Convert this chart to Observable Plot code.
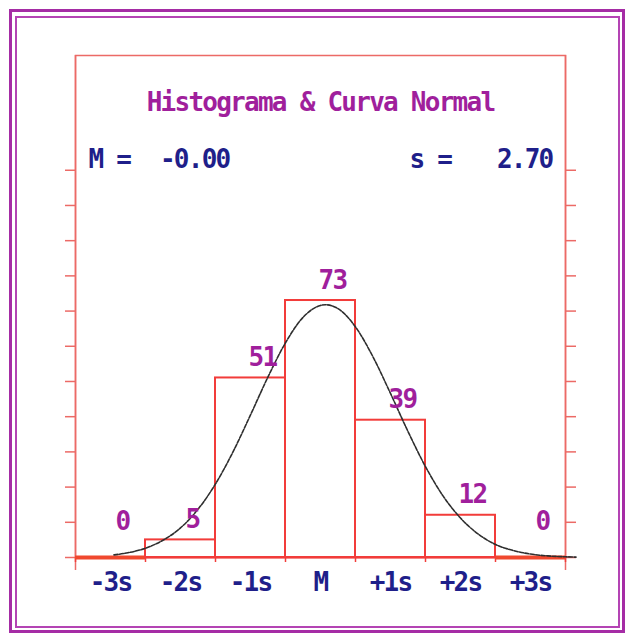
<!DOCTYPE html>
<html>
<head>
<meta charset="utf-8">
<script src="https://cdn.jsdelivr.net/npm/d3@7"></script>
<script src="https://cdn.jsdelivr.net/npm/@observablehq/plot@0.6"></script>
<style>
html, body { margin: 0; padding: 0; background: #fff; width: 626px; height: 636px; overflow: hidden; }
#wrap { position: relative; width: 626px; height: 636px; }
#outer { position: absolute; left: 9px; top: 9px; width: 616px; height: 624px; box-sizing: border-box; border: 3px solid #a52ca5; }
#inner { position: absolute; left: 15px; top: 16px; width: 605px; height: 612px; box-sizing: border-box; border: 2.5px solid #b444b4; }
#chart { position: absolute; left: 0; top: 0; }
#chart svg text { letter-spacing: -1.75px; }
</style>
</head>
<body>
<div id="wrap">
  <div id="outer"></div>
  <div id="inner"></div>
  <div id="chart"></div>
</div>
<script>
// ---- data ----
const binLabels  = ["-3s", "-2s", "-1s", "M", "+1s", "+2s", "+3s"];
const binCenters = [-3, -2, -1, 0, 1, 2, 3];
const counts     = [0, 5, 51, 73, 39, 12, 0];
const yTicks     = [0, 10, 20, 30, 40, 50, 60, 70, 80, 90, 100, 110];

// normal curve as drawn (x in s units, y in counts)
const curveX = [-2.95, -2.75, -2.5, -2.25, -2.0, -1.75, -1.5, -1.25, -1.0, -0.75, -0.5, -0.25, 0, 0.07, 0.25, 0.5, 0.75, 1.0, 1.25, 1.5, 1.75, 2.0, 2.25, 2.5, 2.75, 3.0, 3.25, 3.5, 3.65];
const curveY = [0.74, 1.35, 2.64, 4.9, 8.4, 13.7, 20.9, 30.0, 40.5, 51.3, 61.0, 68.2, 71.6, 71.8, 70.7, 65.5, 57.0, 46.6, 35.8, 25.8, 17.5, 11.2, 6.7, 3.7, 2.0, 0.98, 0.45, 0.2, 0.1];

const titleText = "Histograma & Curva Normal";
const meanLabel = "M =";
const meanValue = "-0.00";
const sdLabel   = "s =";
const sdValue   = "2.70";

// ---- derived tables ----
const bins = binCenters.map((c, i) => ({center: c, x1: c - 0.5, x2: c + 0.5, count: counts[i], label: binLabels[i]}));
const edges = binCenters.map(c => c - 0.5).concat([binCenters[binCenters.length - 1] + 0.5]);
const curve = curveX.map((x, i) => ({x, y: curveY[i]}));

const frameColor = "#ec6a66";
const barColor   = "#f23c3a";
const zeroColor  = "#f0482e";
const magenta    = "#a01f9c";
const navy       = "#1f1f8a";
const font       = "DejaVu Sans Mono";
const fs         = 26;

const chart = Plot.plot({
  width: 626,
  height: 636,
  marginLeft: 75,
  marginRight: 61,
  marginTop: 55,
  marginBottom: 79,
  x: {domain: [edges[0], edges[edges.length - 1]], axis: null},
  y: {domain: [0, 142.6], axis: null},
  style: {background: "transparent", fontFamily: font, overflow: "visible"},
  marks: [
    Plot.frame({stroke: frameColor, strokeWidth: 1.5}),
    Plot.ruleX([edges[0], edges[edges.length - 1]], {stroke: frameColor, strokeWidth: 1.5, insetBottom: -13}),
    Plot.axisY({ticks: yTicks, anchor: "left", tickSize: 10, tickFormat: () => "", stroke: frameColor, strokeWidth: 1.5, label: null}),
    Plot.axisY({ticks: yTicks, anchor: "right", tickSize: 10, tickFormat: () => "", stroke: frameColor, strokeWidth: 1.5, label: null}),
    Plot.axisX({ticks: edges, anchor: "bottom", tickSize: 5, tickFormat: () => "", stroke: barColor, strokeWidth: 1.5, label: null}),
    Plot.ruleY([0], {stroke: barColor, strokeWidth: 2}),
    Plot.ruleY(bins.filter(d => d.count === 0), {x1: "x1", x2: "x2", y: "count", stroke: zeroColor, strokeWidth: 4}),
    Plot.rectY(bins, {x1: "x1", x2: "x2", y: "count", stroke: barColor, strokeWidth: 2, fill: "none"}),
    Plot.line(curve, {x: "x", y: "y", stroke: "#2e2e2e", strokeWidth: 1.6, strokeDasharray: "4,1.5", curve: "monotone-x"}),
    Plot.text(bins, {x: "center", y: d => Math.max(d.count, 4.5), text: d => String(d.count), dx: 12, dy: -12, lineAnchor: "bottom", fill: magenta, fontSize: fs, fontWeight: "bold"}),
    Plot.text(bins, {x: "center", y: 0, text: "label", dy: 33, lineAnchor: "bottom", fill: navy, fontSize: fs, fontWeight: "bold"}),
    Plot.text([titleText], {frameAnchor: "top", text: d => d, dy: 55, lineAnchor: "bottom", fill: magenta, fontSize: fs, fontWeight: "bold"}),
    Plot.text([meanLabel], {frameAnchor: "top-left", text: d => d, dx: 13, dy: 112, textAnchor: "start", lineAnchor: "bottom", fill: navy, fontSize: fs, fontWeight: "bold"}),
    Plot.text([meanValue], {frameAnchor: "top-left", text: d => d, dx: 154, dy: 112, textAnchor: "end", lineAnchor: "bottom", fill: navy, fontSize: fs, fontWeight: "bold"}),
    Plot.text([sdLabel], {frameAnchor: "top-left", text: d => d, dx: 334, dy: 112, textAnchor: "start", lineAnchor: "bottom", fill: navy, fontSize: fs, fontWeight: "bold"}),
    Plot.text([sdValue], {frameAnchor: "top-left", text: d => d, dx: 477, dy: 112, textAnchor: "end", lineAnchor: "bottom", fill: navy, fontSize: fs, fontWeight: "bold"})
  ]
});

document.getElementById("chart").appendChild(chart);
</script>
</body>
</html>
